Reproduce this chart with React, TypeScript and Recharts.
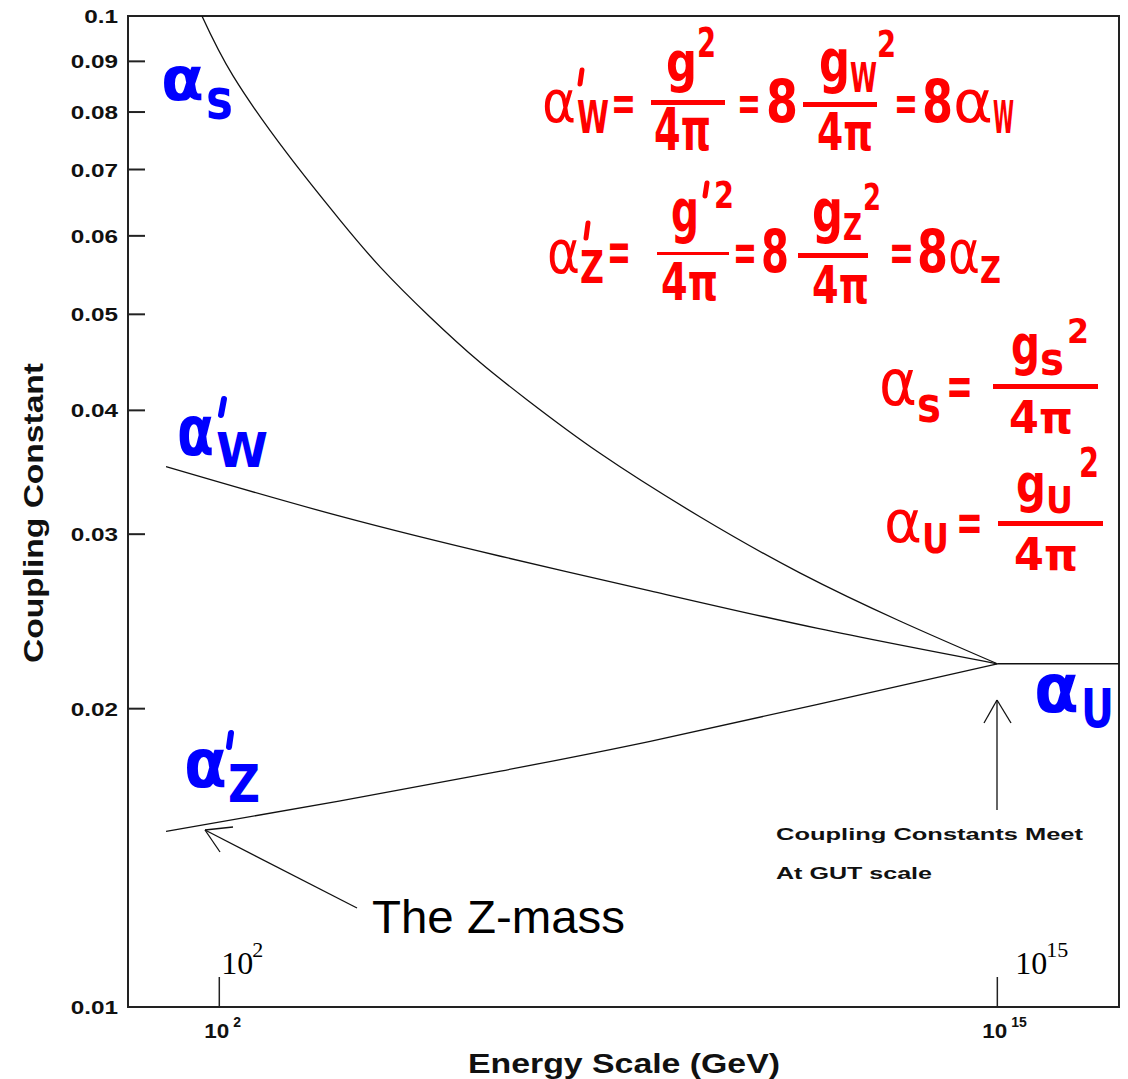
import { LineChart, Line, XAxis, YAxis, ReferenceArea } from "recharts";

// x values are log10(E / GeV), y values are the coupling constants
const strongLogE = [1.71, 2.23, 3.13, 4.02, 4.69, 5.52, 6.36, 7.14, 8.36, 10.03, 11.7, 13.37, 15.0];
const strongAlpha = [0.1, 0.087, 0.0727, 0.0622, 0.0558, 0.0497, 0.0447, 0.041, 0.0362, 0.03124, 0.02742, 0.02452, 0.0222];
const weakLogE = [1.11, 4.0, 6.7, 9.2, 12.0, 15.0];
const weakAlpha = [0.0351, 0.0313, 0.0285, 0.0263, 0.0241, 0.0222];
const hyperLogE = [1.11, 4.0, 6.7, 9.2, 12.0, 15.0];
const hyperAlpha = [0.01504, 0.01613, 0.0173, 0.01854, 0.0202, 0.0222];
const unifiedLogE = [15.0, 17.03];
const unifiedAlpha = [0.0222, 0.0222];

const energyTicks = [2, 15];
const couplingTicks = [0.01, 0.02, 0.03, 0.04, 0.05, 0.06, 0.07, 0.08, 0.09, 0.1];

const toRows = (xs: number[], ys: number[]) => xs.map((x, i) => ({ x, y: ys[i] }));

const AXIS_FONT = "'Liberation Sans', Arial, sans-serif";
const SERIF = "'Liberation Serif', 'Times New Roman', serif";
const FORMULA_FONT = "'DejaVu Sans', sans-serif";
const RED = "#ff0000";
const BLUE = "#0000ff";

const YTick = (props: any) => {
  const { x, y, payload } = props;
  return (
    <g>
      <line x1={x} x2={x + 17} y1={y} y2={y} stroke="#222" strokeWidth={2} />
      <g transform={`translate(${x - 10},${y + 7}) scale(1.35,1)`}>
        <text textAnchor="end" fontFamily={AXIS_FONT} fontWeight={700} fontSize={18} fill="#111">
          {String(payload.value)}
        </text>
      </g>
    </g>
  );
};

const XTick = (props: any) => {
  const { x, y, payload } = props;
  const exp = String(payload.value);
  const dx = payload.value === 2 ? 2 : 18;
  return (
    <g>
      <line x1={x} x2={x} y1={y} y2={y - 30} stroke="#222" strokeWidth={1.5} />
      <text x={x - 15} y={y + 31} fontFamily={AXIS_FONT} fontWeight={700} fontSize={20} textLength={25} lengthAdjust="spacingAndGlyphs" fill="#111">
        10
      </text>
      <text x={x + 14} y={y + 20} fontFamily={AXIS_FONT} fontWeight={700} fontSize={14} fill="#111">
        {exp}
      </text>
      <text x={x + dx} y={y - 33} fontFamily={SERIF} fontSize={32} fill="#000">
        10
      </text>
      <text x={x + dx + 31} y={y - 50} fontFamily={SERIF} fontSize={22} fill="#000">
        {exp}
      </text>
    </g>
  );
};

// glyph placed by ink box: left, right, baseline, font size
const G = ({ l, r, b, fs, t, c = RED, w = 700 }: any) => (
  <text x={l} y={b} fontSize={fs} fontFamily={FORMULA_FONT} fontWeight={w} fill={c} textLength={r - l} lengthAdjust="spacingAndGlyphs">
    {t}
  </text>
);

const Eq = ({ l, r, top, bot, c = RED }: any) => <G l={l} r={r} b={bot + 8} fs={(bot - top) * 2.5} t="=" c={c} />;

const Bar = ({ l, r, y, h }: any) => <rect x={l} y={y} width={r - l} height={h} fill={RED} />;

const Prime = ({ x1, y1, x2, y2, c = RED, sw = 5 }: any) => (
  <line x1={x1} y1={y1} x2={x2} y2={y2} stroke={c} strokeWidth={sw} strokeLinecap="round" />
);

const Overlay = () => (
  <svg width={1128} height={1079} style={{ position: "absolute", left: 0, top: 0, pointerEvents: "none" }}>
    {/* axis titles */}
    <text x={468} y={1073} fontFamily={AXIS_FONT} fontWeight={700} fontSize={27} textLength={312} lengthAdjust="spacingAndGlyphs" fill="#111">
      Energy Scale (GeV)
    </text>
    <text transform="translate(43,513) rotate(-90)" textAnchor="middle" fontFamily={AXIS_FONT} fontWeight={700} fontSize={28} textLength={300} lengthAdjust="spacingAndGlyphs" fill="#111">
      Coupling Constant
    </text>

    {/* blue curve labels */}
    <G l={161} r={204} b={100} fs={60} t="α" c={BLUE} />
    <G l={206} r={233} b={118} fs={55} t="s" c={BLUE} />
    <G l={177} r={214} b={455} fs={69} t="α" c={BLUE} />
    <Prime x1={224} y1={399} x2={221} y2={415} c={BLUE} sw={6} />
    <G l={216} r={268} b={467} fs={48} t="W" c={BLUE} />
    <G l={184} r={227} b={787} fs={68} t="α" c={BLUE} />
    <Prime x1={231} y1={733} x2={229} y2={747} c={BLUE} sw={6} />
    <G l={228} r={260} b={802} fs={51} t="Z" c={BLUE} />
    <G l={1034} r={1079} b={712} fs={68} t="α" c={BLUE} />
    <G l={1081} r={1114} b={727} fs={53} t="U" c={BLUE} />

    {/* formula 1 */}
    <G l={542} r={576} b={122} fs={58} t="α" w={400} />
    <Prime x1={582} y1={70} x2={580} y2={84} />
    <G l={577} r={609} b={133} fs={45} t="W" />
    <Eq l={611} r={636} top={92} bot={112} />
    <G l={666} r={697} b={81} fs={56} t="g" />
    <G l={697} r={716} b={57} fs={41} t="2" />
    <Bar l={651} r={725} y={100} h={5} />
    <G l={654} r={711} b={150} fs={58} t="4π" />
    <Eq l={737} r={761} top={92} bot={112} />
    <G l={766} r={798} b={122} fs={58} t="8" />
    <G l={819} r={850} b={82} fs={58} t="g" />
    <G l={850} r={877} b={92} fs={40} t="W" />
    <G l={877} r={896} b={57} fs={37} t="2" />
    <Bar l={803} r={877} y={102} h={5} />
    <G l={817} r={873} b={150} fs={52} t="4π" />
    <Eq l={894} r={918} top={92} bot={112} />
    <G l={922} r={953} b={122} fs={58} t="8" />
    <G l={953} r={993} b={122} fs={58} t="α" w={400} />
    <G l={993} r={1014} b={133} fs={45} t="W" />

    {/* formula 2 */}
    <G l={547} r={580} b={273} fs={60} t="α" w={400} />
    <Prime x1={588} y1={223} x2={586} y2={238} />
    <G l={580} r={604} b={283} fs={45} t="Z" />
    <Eq l={607} r={631} top={240} bot={263} />
    <G l={671} r={699} b={232} fs={58} t="g" />
    <Prime x1={707} y1={183} x2={705} y2={196} />
    <G l={714} r={734} b={208} fs={38} t="2" />
    <Bar l={657} r={729} y={252} h={3} />
    <G l={661} r={718} b={300} fs={51} t="4π" />
    <Eq l={733} r={757} top={242} bot={263} />
    <G l={761} r={789} b={272} fs={58} t="8" />
    <G l={812} r={843} b={232} fs={58} t="g" />
    <G l={843} r={862} b={240} fs={37} t="Z" />
    <G l={863} r={881} b={210} fs={38} t="2" />
    <Bar l={798} r={868} y={253} h={5} />
    <G l={812} r={869} b={303} fs={52} t="4π" />
    <Eq l={889} r={914} top={242} bot={263} />
    <G l={917} r={948} b={272} fs={58} t="8" />
    <G l={948} r={980} b={273} fs={60} t="α" w={400} />
    <G l={980} r={1001} b={283} fs={38} t="Z" />

    {/* formula 3 */}
    <G l={879} r={917} b={405} fs={64} t="α" w={400} />
    <G l={917} r={941} b={422} fs={49} t="s" />
    <Eq l={946} r={973} top={375} bot={397} />
    <G l={1011} r={1040} b={364} fs={55} t="g" />
    <G l={1040} r={1064} b={375} fs={46} t="s" />
    <G l={1067} r={1089} b={343} fs={34} t="2" />
    <Bar l={993} r={1098} y={384} h={5} />
    <G l={1009} r={1073} b={433} fs={45} t="4π" />

    {/* formula 4 */}
    <G l={884} r={922} b={542} fs={58} t="α" w={400} />
    <G l={922} r={949} b={553} fs={41} t="U" />
    <Eq l={956} r={983} top={512} bot={533} />
    <G l={1016} r={1046} b={502} fs={53} t="g" />
    <G l={1046} r={1073} b={513} fs={38} t="U" />
    <G l={1079} r={1099} b={477} fs={41} t="2" />
    <Bar l={998} r={1103} y={521} h={5} />
    <G l={1014} r={1078} b={570} fs={45} t="4π" />

    {/* Z-mass arrow */}
    <line x1={357} y1={908} x2={205} y2={830} stroke="#111" strokeWidth={1.3} />
    <line x1={205} y1={830} x2={233} y2={827} stroke="#111" strokeWidth={1.3} />
    <line x1={205} y1={830} x2={220} y2={852} stroke="#111" strokeWidth={1.3} />
    <text x={372} y={933} fontFamily={AXIS_FONT} fontSize={46} textLength={253} lengthAdjust="spacingAndGlyphs" fill="#000">
      The Z-mass
    </text>

    {/* GUT arrow */}
    <line x1={997} y1={810} x2={997} y2={700} stroke="#111" strokeWidth={1.3} />
    <line x1={997} y1={700} x2={984} y2={723} stroke="#111" strokeWidth={1.3} />
    <line x1={997} y1={700} x2={1011} y2={723} stroke="#111" strokeWidth={1.3} />
    <text x={776} y={840} fontFamily={AXIS_FONT} fontWeight={700} fontSize={17} textLength={307} lengthAdjust="spacingAndGlyphs" fill="#111">
      Coupling Constants Meet
    </text>
    <text x={776} y={879} fontFamily={AXIS_FONT} fontWeight={700} fontSize={17} textLength={156} lengthAdjust="spacingAndGlyphs" fill="#111">
      At GUT scale
    </text>
  </svg>
);

const App = () => {
  return (
    <div style={{ position: "absolute", left: 0, top: 0, width: 1128, height: 1079, background: "#fff" }}>
      <LineChart width={1128} height={1079} margin={{ top: 16, right: 9, left: 0, bottom: 0 }}>
        <XAxis
          dataKey="x"
          type="number"
          domain={[0.4745, 17.033]}
          allowDataOverflow
          ticks={energyTicks}
          tick={<XTick />}
          tickLine={false}
          tickSize={0}
          tickMargin={0}
          axisLine={false}
          height={72}
        />
        <YAxis
          dataKey="y"
          scale="log"
          domain={[0.01, 0.1]}
          allowDataOverflow
          ticks={couplingTicks}
          tick={<YTick />}
          tickLine={false}
          tickSize={0}
          tickMargin={0}
          axisLine={false}
          width={128}
        />
        <ReferenceArea x1={0.4745} x2={17.033} y1={0.01} y2={0.1} fill="none" stroke="#222" strokeWidth={2} ifOverflow="visible" />
        <Line data={toRows(strongLogE, strongAlpha)} dataKey="y" type="natural" stroke="#111" strokeWidth={1.3} dot={false} isAnimationActive={false} />
        <Line data={toRows(weakLogE, weakAlpha)} dataKey="y" type="natural" stroke="#111" strokeWidth={1.3} dot={false} isAnimationActive={false} />
        <Line data={toRows(hyperLogE, hyperAlpha)} dataKey="y" type="natural" stroke="#111" strokeWidth={1.3} dot={false} isAnimationActive={false} />
        <Line data={toRows(unifiedLogE, unifiedAlpha)} dataKey="y" type="linear" stroke="#111" strokeWidth={1.3} dot={false} isAnimationActive={false} />
      </LineChart>
      <Overlay />
    </div>
  );
};

export default App;
